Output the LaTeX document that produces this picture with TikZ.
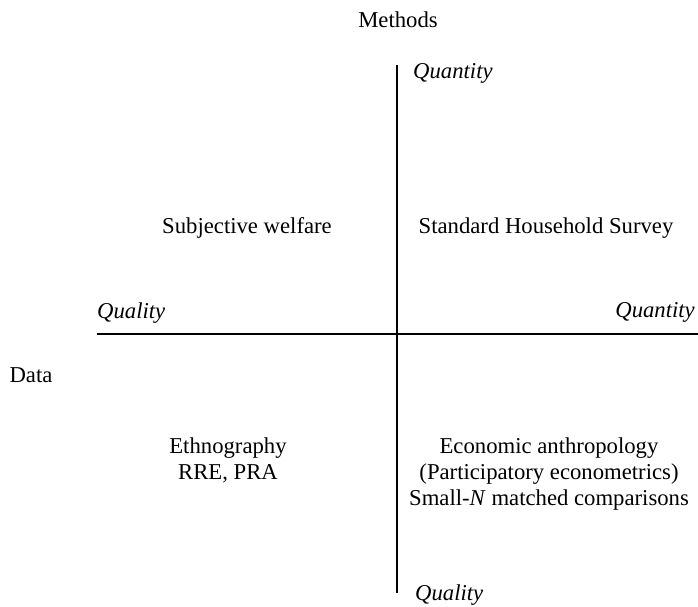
\documentclass[tikz,border=0pt]{standalone}
\usepackage{fontspec}
\setmainfont{Liberation Serif}
\begin{document}
\begin{tikzpicture}[x=1pt,y=-1pt,
  lbl/.style={font=\fontsize{22.7}{26}\selectfont, inner sep=0pt, anchor=base},
  axis/.style={line width=2.6pt}]
\useasboundingbox (0,0) rectangle (698,607);
\coordinate (vt) at (397,65);
\coordinate (vb) at (397,593);
\coordinate (hl) at (97,334);
\coordinate (hr) at (698,334);
\draw[axis] (vt) -- (vb);
\draw[axis] (hl) -- (hr);
\node[lbl] (methods) at (398,28) {Methods};
\node[lbl,anchor=base west] (qtop) at (413,79) {\itshape Quantity};
\node[lbl] (subj) at (247,233) {Subjective welfare};
\node[lbl] (shs) at (546,233) {Standard Household Survey};
\node[lbl,anchor=base west] (qleft) at (97,318) {\itshape Quality};
\node[lbl,anchor=base east] (qright) at (695,317) {\itshape Quantity};
\node[lbl] (data) at (31,382) {Data};
\node[lbl] (eth1) at (228,453) {Ethnography};
\node[lbl] (eth2) at (228,479) {RRE, PRA};
\node[lbl] (econ1) at (549,453) {Economic anthropology};
\node[lbl] (econ2) at (549,479) {(Participatory econometrics)};
\node[lbl] (econ3) at (549,505) {Small-\textit{N} matched comparisons};
\node[lbl,anchor=base west] (qbot) at (415,600) {\itshape Quality};
\end{tikzpicture}
\end{document}
